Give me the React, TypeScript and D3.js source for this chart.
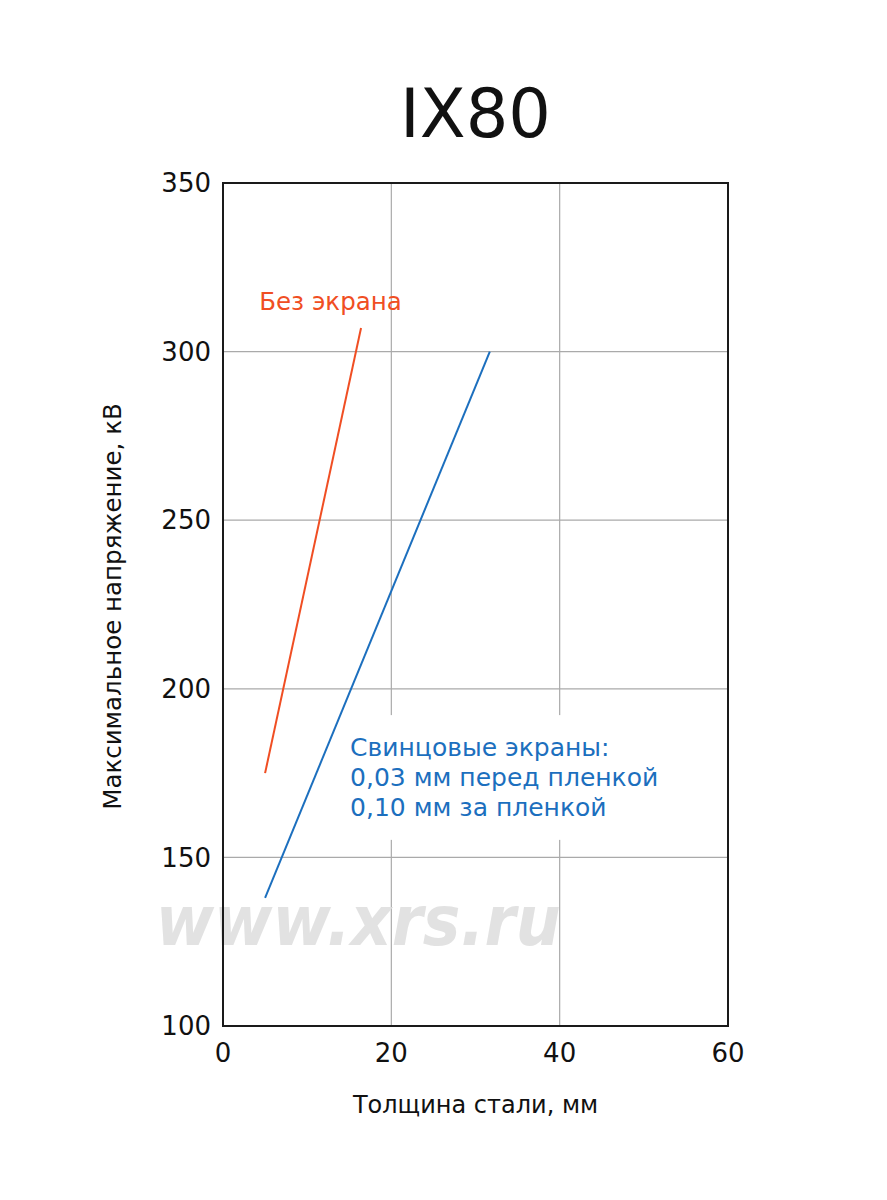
import { useEffect, useRef } from 'react';
import * as d3 from 'd3';

// Steel thickness (mm) vs max voltage (kV)
const noScreenX = [5, 16.4];
const noScreenY = [175, 307];
const leadScreenX = [5, 31.7];
const leadScreenY = [138, 300];

const xTicks = [0, 20, 40, 60];
const yTicks = [100, 150, 200, 250, 300, 350];

const leadLabel = ['Свинцовые экраны:', '0,03 мм перед пленкой', '0,10 мм за пленкой'];

const FONT = '"DejaVu Sans", sans-serif';

export default function App() {
  const ref = useRef<SVGSVGElement>(null);

  useEffect(() => {
    if (!ref.current) return;
    const svg = d3.select(ref.current);
    svg.selectAll('*').remove();

    const width = 887;
    const height = 1200;
    const margin = { top: 183, right: 159, bottom: 174, left: 223 };
    const w = width - margin.left - margin.right;
    const h = height - margin.top - margin.bottom;

    svg.append('rect').attr('width', width).attr('height', height).attr('fill', '#fff');

    const x = d3.scaleLinear().domain([0, 60]).range([0, w]);
    const y = d3.scaleLinear().domain([100, 350]).range([h, 0]);

    const g = svg.append('g').attr('transform', `translate(${margin.left},${margin.top})`);

    // grid
    g.selectAll('.vgrid')
      .data(xTicks.slice(1, -1))
      .join('line')
      .attr('x1', d => x(d)).attr('x2', d => x(d))
      .attr('y1', 0).attr('y2', h)
      .attr('stroke', '#aaa').attr('stroke-width', 1.2);
    g.selectAll('.hgrid')
      .data(yTicks.slice(1, -1))
      .join('line')
      .attr('x1', 0).attr('x2', w)
      .attr('y1', d => y(d)).attr('y2', d => y(d))
      .attr('stroke', '#aaa').attr('stroke-width', 1.2);

    // watermark
    g.append('text')
      .attr('x', x(-8))
      .attr('y', y(124))
      .attr('font-family', FONT)
      .attr('font-weight', 'bold')
      .attr('font-style', 'italic')
      .attr('font-size', 70)
      .attr('textLength', 405)
      .attr('lengthAdjust', 'spacingAndGlyphs')
      .attr('fill', '#ddd')
      .attr('fill-opacity', 0.85)
      .text('www.xrs.ru');

    // white boxes behind labels
    g.append('rect')
      .attr('x', x(4)).attr('y', y(324.2))
      .attr('width', x(13)).attr('height', y(306.4) - y(324.2))
      .attr('fill', '#fff');
    g.append('rect')
      .attr('x', x(14.5)).attr('y', y(192.2))
      .attr('width', x(36)).attr('height', y(155.2) - y(192.2))
      .attr('fill', '#fff');

    const line = d3.line<[number, number]>()
      .x(d => x(d[0]))
      .y(d => y(d[1]));

    g.append('path')
      .datum(d3.zip(noScreenX, noScreenY) as [number, number][])
      .attr('d', line)
      .attr('fill', 'none')
      .attr('stroke', '#f04e23')
      .attr('stroke-width', 2);
    g.append('path')
      .datum(d3.zip(leadScreenX, leadScreenY) as [number, number][])
      .attr('d', line)
      .attr('fill', 'none')
      .attr('stroke', '#1c6fbe')
      .attr('stroke-width', 2);

    // labels
    g.append('text')
      .attr('x', x(4.3))
      .attr('y', y(312.3))
      .attr('font-family', FONT)
      .attr('font-size', 24.5)
      .attr('fill', '#f04e23')
      .text('Без экрана');

    g.selectAll('.lead')
      .data(leadLabel)
      .join('text')
      .attr('x', x(15.1))
      .attr('y', (d, i) => y(180.2) + i * 30)
      .attr('font-family', FONT)
      .attr('font-size', 25)
      .attr('fill', '#1c6fbe')
      .text(d => d);

    // frame
    g.append('rect')
      .attr('width', w).attr('height', h)
      .attr('fill', 'none')
      .attr('stroke', '#1a1a1a')
      .attr('stroke-width', 2);

    // tick labels
    g.selectAll('.xt')
      .data(xTicks)
      .join('text')
      .attr('x', d => x(d))
      .attr('y', h + 36)
      .attr('text-anchor', 'middle')
      .attr('font-family', FONT)
      .attr('font-size', 26)
      .attr('fill', '#111')
      .text(d => d);
    g.selectAll('.yt')
      .data(yTicks)
      .join('text')
      .attr('x', -12)
      .attr('y', d => y(d))
      .attr('dy', '0.35em')
      .attr('text-anchor', 'end')
      .attr('font-family', FONT)
      .attr('font-size', 26)
      .attr('fill', '#111')
      .text(d => d);

    // axis titles
    g.append('text')
      .attr('x', w / 2)
      .attr('y', h + 87)
      .attr('text-anchor', 'middle')
      .attr('font-family', FONT)
      .attr('font-size', 24)
      .attr('fill', '#111')
      .text('Толщина стали, мм');
    g.append('text')
      .attr('transform', `translate(${-102},${h / 2 + 2}) rotate(-90)`)
      .attr('text-anchor', 'middle')
      .attr('font-family', FONT)
      .attr('font-size', 24.5)
      .attr('fill', '#111')
      .text('Максимальное напряжение, кВ');

    // title
    svg.append('text')
      .attr('x', margin.left + w / 2)
      .attr('y', 137)
      .attr('text-anchor', 'middle')
      .attr('font-family', FONT)
      .attr('font-size', 67)
      .attr('fill', '#111')
      .text('IX80');
  }, []);

  return (
    <div style={{ position: 'absolute', left: 0, top: 0 }}>
      <svg ref={ref} width={887} height={1200} />
    </div>
  );
}
